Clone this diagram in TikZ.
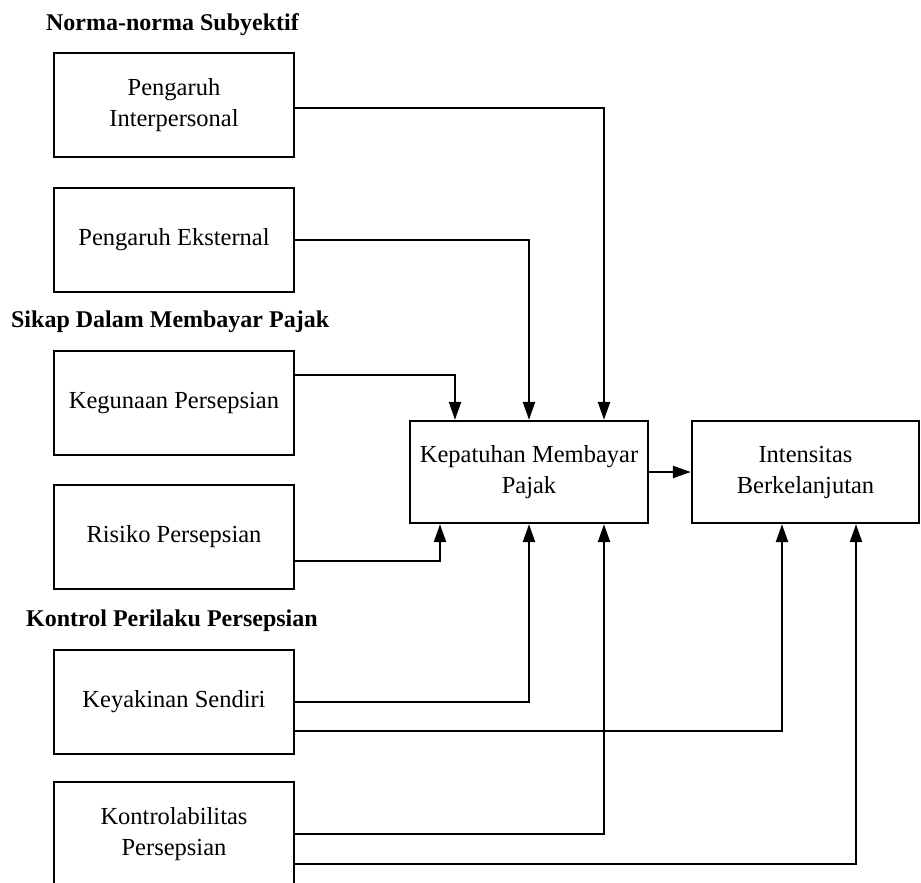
\documentclass[tikz,border=0pt]{standalone}
\usepackage{fontspec}
\setmainfont{Liberation Serif}
\usepackage{tikz}
\usetikzlibrary{arrows.meta}

\begin{document}
\begin{tikzpicture}[x=1pt, y=-1pt, line width=2.3pt,
  kotak/.style={draw, rectangle, align=center, minimum width=240pt, minimum height=104pt, font=\fontsize{24.5}{31}\selectfont},
  judul/.style={anchor=west, inner sep=0pt, font=\fontsize{24}{31}\selectfont\bfseries},
  panah/.style={-{Triangle[length=18pt,width=12pt]}}]
\useasboundingbox (0,0) rectangle (921,883);
\node[judul] (ln) at (45,25) {Norma-norma Subyektif};
\node[kotak] (n1) at (174,105) {Pengaruh\\Interpersonal};
\node[kotak] (n2) at (174,240) {Pengaruh Eksternal};
\node[judul] (ls) at (10,322) {Sikap Dalam Membayar Pajak};
\node[kotak] (s1) at (174,403) {Kegunaan Persepsian};
\node[kotak] (s2) at (174,537) {Risiko Persepsian};
\node[judul] (lk) at (25,621) {Kontrol Perilaku Persepsian};
\node[kotak] (k1) at (174,702) {Keyakinan Sendiri};
\node[kotak] (k2) at (174,834) {Kontrolabilitas\\Persepsian};
\node[kotak, minimum width=238pt, minimum height=102pt] (y1) at (529,472) {Kepatuhan Membayar\\Pajak};
\node[kotak, minimum width=227pt, minimum height=102pt] (z1) at (805.5,472) {Intensitas\\Berkelanjutan};
% ke kepatuhan, dari atas
\draw[panah] ([yshift=-3pt]n1.east) -| ([xshift=75pt]y1.north);
\draw[panah] (n2.east) -| (y1.north);
\draw[panah] ([yshift=28pt]s1.east) -| ([xshift=-74pt]y1.north);
% ke kepatuhan, dari bawah
\draw[panah] ([yshift=-24pt]s2.east) -| ([xshift=-89pt]y1.south);
\draw[panah] (k1.east) -| (y1.south);
\draw[panah] (k2.east) -| ([xshift=75pt]y1.south);
% ke intensitas
\draw[panah] ([yshift=-29pt]k1.east) -| ([xshift=-23.5pt]z1.south);
\draw[panah] ([yshift=-30pt]k2.east) -| ([xshift=50.5pt]z1.south);
\draw[panah] (y1) -- (z1);
\end{tikzpicture}
\end{document}
